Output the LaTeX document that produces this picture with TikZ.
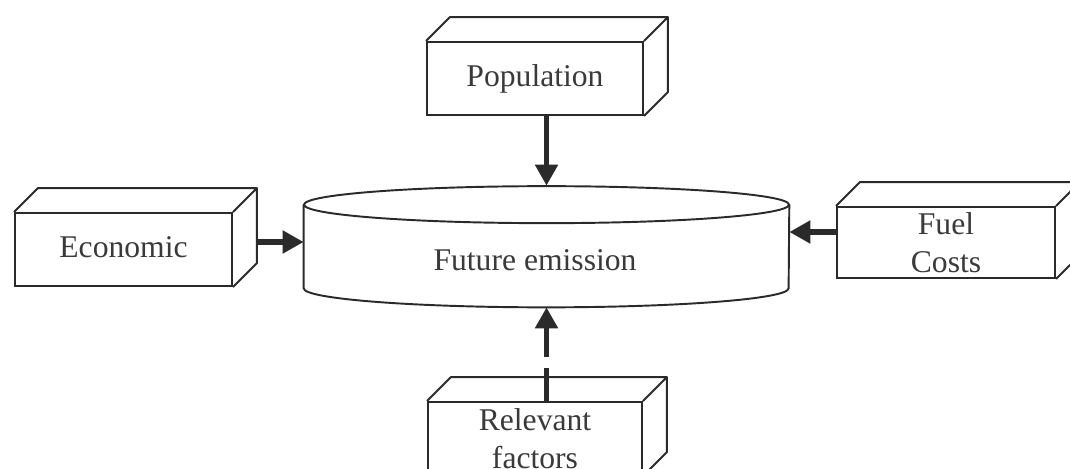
\documentclass[tikz,border=0pt]{standalone}
\usepackage{fontspec}
\setmainfont{Liberation Serif}
\usetikzlibrary{arrows.meta,calc}
\definecolor{ink}{HTML}{2A2A2A}
\definecolor{txt}{HTML}{3A3A3A}
\tikzset{
  lbl/.style={font=\fontsize{18}{21.5}\selectfont, text=txt, align=center},
  box3d/.style={draw=ink, line width=1.1pt, lbl, inner sep=0pt,
    append after command={\pgfextra{
      \draw[draw=ink, line width=1.1pt, line join=round]
        (\tikzlastnode.north west) -- ++(24,-24)
        -| ([shift={(0.48cm,0.48cm)}]\tikzlastnode.south east)
        -- (\tikzlastnode.south east)
        (\tikzlastnode.north east) -- ++(24,-24);
    }}},
  drum/.style={draw=ink, line width=1.1pt},
  arr/.style={draw=ink, line width=3.4pt, -{Triangle[length=12pt,width=12.5pt]}}
}
\begin{document}
\begin{tikzpicture}[x=0.02cm, y=-0.02cm]
\useasboundingbox (0,0) rectangle (1070,469);
\fill[white] (0,0) rectangle (1070,469);
\clip (0,0) rectangle (1070,469);

% central drum
\node[minimum width=9.7cm, minimum height=2.42cm, inner sep=0pt] (fe) at (546.5,246.5) {};
\draw[drum] ([yshift=-0.38cm]fe.north) ellipse [x radius=4.85cm, y radius=0.37cm];
\draw[drum] ([yshift=-0.38cm]fe.north west) -- ([yshift=0.38cm]fe.south west)
  arc[start angle=180, end angle=360, x radius=4.85cm, y radius=0.38cm]
  -- ([yshift=-0.38cm]fe.north east);
\node[lbl] (fetext) at (535,260) {Future emission};

% boxes
\node[box3d, minimum width=4.32cm, minimum height=1.46cm] (pop) at (535,78.5) {\raisebox{0.06cm}{Population}};
\node[box3d, minimum width=4.34cm, minimum height=1.46cm] (econ) at (123.5,249.5) {\raisebox{0.08cm}{Economic}};
\node[box3d, minimum width=4.36cm, minimum height=1.42cm] (fuel) at (946,242.5) {Fuel\\Costs};
\node[box3d, minimum width=4.28cm, minimum height=1.46cm] (rel) at (535,438.5) {Relevant\\factors};

% connectors
\coordinate (ea) at ([shift={(0.50cm,0.15cm)}]econ.east);
\coordinate (fa) at ([yshift=0.21cm]fuel.west);
\draw[arr] (pop.south -| fe.north) -- (fe.north);
\draw[arr] (ea) -- (ea -| fe.west);
\draw[arr] (fa) -- (fa -| fe.east);
\draw[arr, dash pattern=on 19pt off 6pt on 200pt] (rel.north -| fe.south) -- (fe.south);
\end{tikzpicture}
\end{document}
